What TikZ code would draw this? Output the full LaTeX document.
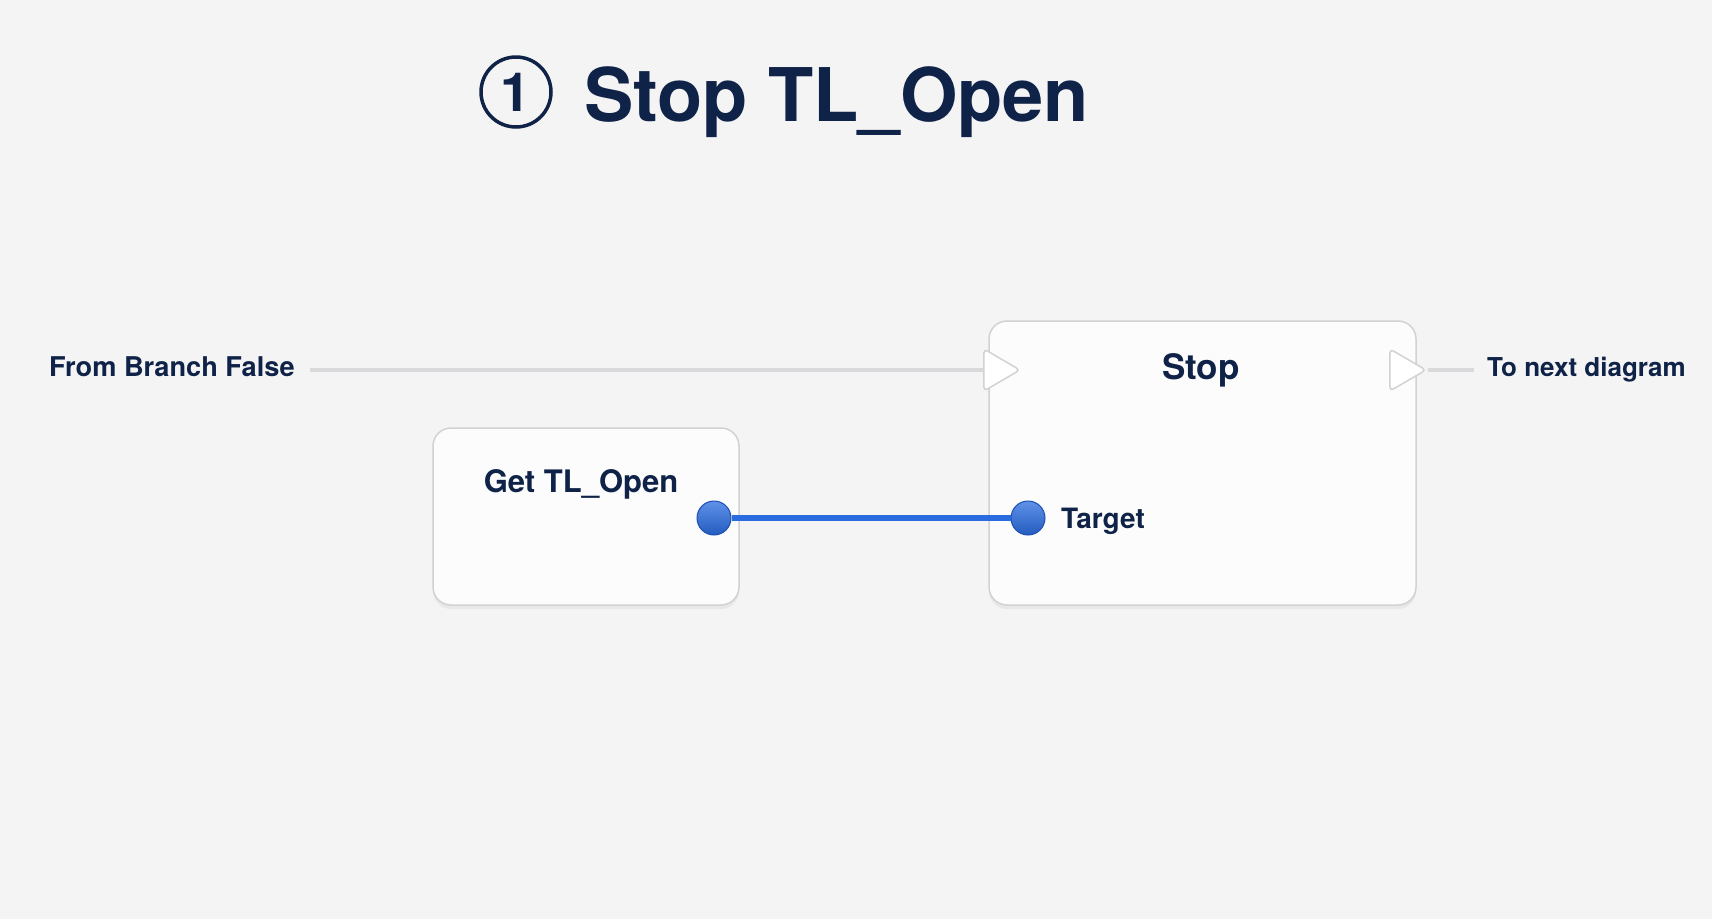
\documentclass[tikz,border=0pt]{standalone}
\usepackage{fontspec}
\setmainfont{TeX Gyre Heros}
\usetikzlibrary{shapes.geometric,shadows,positioning}
\definecolor{bg}{HTML}{F4F4F5}
\definecolor{ink}{HTML}{0F2247}
\definecolor{edge}{HTML}{D2D2D5}
\definecolor{wire}{HTML}{D9D9DC}
\definecolor{pinblue}{HTML}{2A6CE0}
\definecolor{pinedge}{HTML}{1C4FB5}
\begin{document}
\begin{tikzpicture}[x=1pt,y=-1pt,
  block/.style={draw=edge, line width=1.5pt, fill=white!70!bg, rounded corners=18pt,
    inner sep=0pt, drop shadow={opacity=0.10, shadow xshift=0pt, shadow yshift=-4pt}},
  execpin/.style={draw=edge, line width=1.5pt, fill=white, isosceles triangle,
    isosceles triangle stretches, minimum width=42pt, minimum height=36pt,
    inner sep=0pt, rounded corners=4pt},
  datapin/.style={circle, draw=pinedge, line width=1pt, minimum size=34pt, inner sep=0pt,
    top color=pinblue!75!white, bottom color=pinblue!85!black},
  lbl/.style={text=ink, inner sep=0pt, font=\bfseries\fontsize{26}{26}\selectfont},
  execwire/.style={draw=wire, line width=3.5pt},
  datawire/.style={draw=pinblue, line width=5.5pt}]
\fill[bg] (0,0) rectangle (1712,919);

\coordinate (T) at (516,92);
\coordinate (G) at (586,516.5);
\coordinate (S) at (1202.5,463);

% title
\node[circle, draw=ink, line width=3.5pt, minimum size=70pt, inner sep=0pt, text=ink,
  font=\bfseries\fontsize{54}{54}\selectfont] (num) at (T) {1};
\node[anchor=base west, text=ink, inner sep=0pt, font=\bfseries\fontsize{74}{74}\selectfont]
  (title) at (584,121) {Stop TL\_Open};

% blocks
\node[block, minimum width=306pt, minimum height=177pt] (get) at (G) {};
\node[block, minimum width=427pt, minimum height=284pt] (stop) at (S) {};
\node[lbl, font=\bfseries\fontsize{31}{31}\selectfont] (getlbl) at (581,484) {Get TL\_Open};
\node[lbl, font=\bfseries\fontsize{35}{35}\selectfont] (stoplbl) at (1201,370) {Stop};

% exec pins
\node[execpin] (stopin) at (996,370) {};
\node[execpin] (stopout) at (1402,370) {};
\node[lbl, anchor=west, font=\bfseries\fontsize{27.2}{27.2}\selectfont] (from) at (49,367) {From Branch False};
\node[lbl, anchor=west] (next) at (1487,370) {To next diagram};
\draw[execwire] ([xshift=15pt]from.east |- stopin.west) -- (stopin.west);
\draw[execwire] (stopout.east) -- ([xshift=-13pt]next.west);

% data pins
\node[datapin] (getpin) at (714,518) {};
\node[datapin] (target) at (1028,518) {};
\node[lbl, anchor=west, font=\bfseries\fontsize{28}{28}\selectfont] (targetlbl) at (1061,521) {Target};
\draw[datawire] (getpin.east) -- (target.west);
\end{tikzpicture}
\end{document}
